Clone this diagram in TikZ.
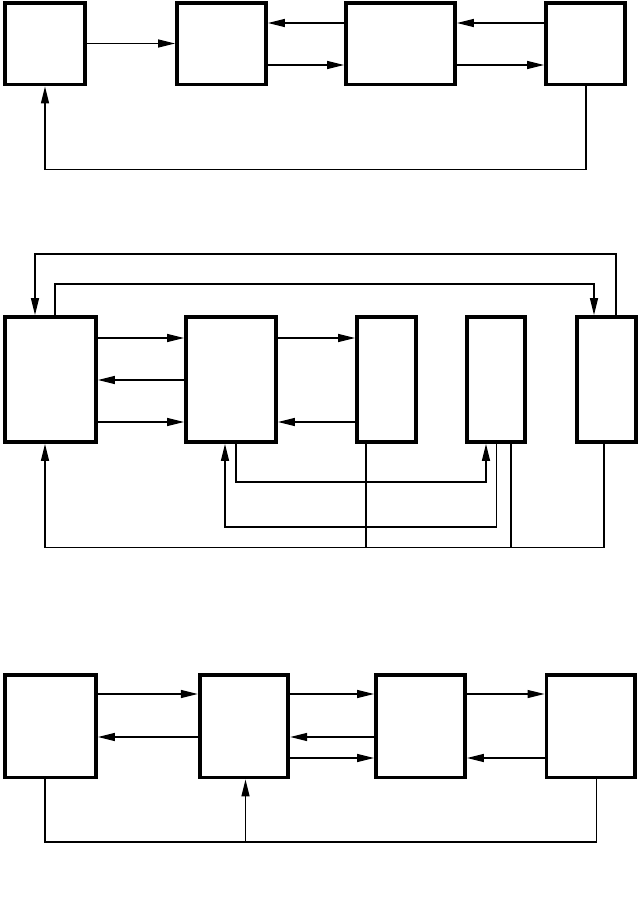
\documentclass[tikz,border=0pt]{standalone}
\usetikzlibrary{arrows.meta}
\tikzset{
  blk/.style={draw, line width=3.8pt, inner sep=0pt, fill=white},
  wire/.style={line width=1.3pt},
  arr/.style={wire, -{Triangle[length=17pt,width=8pt]}},
}
\begin{document}
\begin{tikzpicture}[x=1pt,y=-1pt]
\useasboundingbox (0,0) rectangle (638,922);
% ---------- Diagram 1 ----------
\node[blk, minimum width=80pt, minimum height=81.5pt] (A) at (45,43.75) {};
\node[blk, minimum width=89pt, minimum height=81.5pt] (B) at (221.5,43.75) {};
\node[blk, minimum width=109pt, minimum height=81.5pt] (C) at (400.5,43.75) {};
\node[blk, minimum width=79pt, minimum height=81.5pt] (D) at (585.5,43.75) {};
\draw[arr] (A.east |- 0,43.5) -- (B.west |- 0,43.5);
\draw[arr] (C.west |- 0,23) -- (B.east |- 0,23);
\draw[arr] (B.east |- 0,65) -- (C.west |- 0,65);
\draw[arr] (D.west |- 0,23) -- (C.east |- 0,23);
\draw[arr] (C.east |- 0,65) -- (D.west |- 0,65);
\coordinate (fa) at (0,169.5);
\draw[arr] (D.south -| 586,0) -- (586,169.5) -- (45,169.5) -- (A.south -| 45,0);
% ---------- Diagram 2 ----------
\node[blk, minimum width=91pt, minimum height=125pt] (P) at (50.5,379.5) {};
\node[blk, minimum width=90pt, minimum height=125pt] (Q) at (231,379.5) {};
\node[blk, minimum width=59pt, minimum height=125pt] (R) at (386.5,379.5) {};
\node[blk, minimum width=58pt, minimum height=125pt] (S) at (496,379.5) {};
\node[blk, minimum width=59pt, minimum height=125pt] (T) at (606.5,379.5) {};
\draw[arr] (P.east |- 0,338) -- (Q.west |- 0,338);
\draw[arr] (Q.west |- 0,380) -- (P.east |- 0,380);
\draw[arr] (P.east |- 0,422) -- (Q.west |- 0,422);
\draw[arr] (Q.east |- 0,338) -- (R.west |- 0,338);
\draw[arr] (R.west |- 0,422) -- (Q.east |- 0,422);
\draw[arr] (T.north -| 616,0) -- (616,254) -- (35,254) -- (P.north -| 35,0);
\draw[arr] (P.north -| 55,0) -- (55,284) -- (594,284) -- (T.north -| 594,0);
\draw[arr] (Q.south -| 236,0) -- (236,482) -- (486,482) -- (S.south -| 486,0);
\draw[arr] (S.south -| 496.5,0) -- (496.5,527) -- (225,527) -- (Q.south -| 225,0);
\coordinate (fb) at (0,547.5);
\draw[arr] (T.south -| 604,0) -- (604,547.5) -- (45,547.5) -- (P.south -| 45,0);
\draw[wire] (R.south -| 366,0) -- (fb -| 366,0);
\draw[wire] (S.south -| 511,0) -- (fb -| 511,0);
% ---------- Diagram 3 ----------
\node[blk, minimum width=91pt, minimum height=102.5pt] (U) at (50.5,726.25) {};
\node[blk, minimum width=88.6pt, minimum height=102.5pt] (V) at (244,726.25) {};
\node[blk, minimum width=89pt, minimum height=102.5pt] (W) at (420.5,726.25) {};
\node[blk, minimum width=88.8pt, minimum height=102.5pt] (X) at (590.8,726.25) {};
\draw[arr] (U.east |- 0,694) -- (V.west |- 0,694);
\draw[arr] (V.west |- 0,737) -- (U.east |- 0,737);
\draw[arr] (V.east |- 0,694) -- (W.west |- 0,694);
\draw[arr] (W.west |- 0,737) -- (V.east |- 0,737);
\draw[arr] (V.east |- 0,758) -- (W.west |- 0,758);
\draw[arr] (W.east |- 0,694) -- (X.west |- 0,694);
\draw[arr] (X.west |- 0,758) -- (W.east |- 0,758);
\coordinate (fc) at (245.5,842);
\draw[wire] (U.south -| 45,0) -- (45,842) -- (596.5,842) -- (X.south -| 596.5,0);
\draw[arr] (fc) -- (V.south -| fc);
\end{tikzpicture}
\end{document}
